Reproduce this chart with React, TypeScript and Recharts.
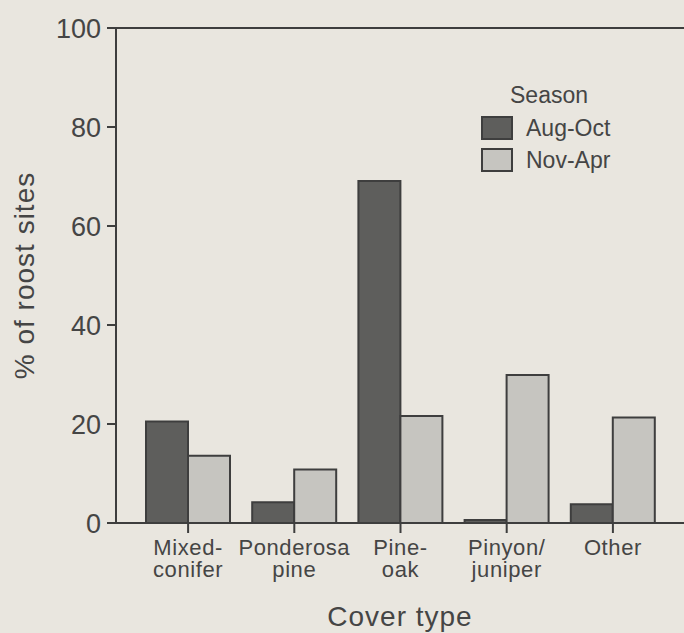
import React from 'react';
import { BarChart, Bar, XAxis, YAxis, ReferenceLine } from 'recharts';

const categories = ['Mixed-\nconifer', 'Ponderosa\npine', 'Pine-\noak', 'Pinyon/\njuniper', 'Other'];
const augOct = [20.5, 4.2, 69.1, 0.6, 3.8];
const novApr = [13.6, 10.8, 21.6, 29.9, 21.3];
const yTicks = [0, 20, 40, 60, 80, 100];
const seasons = [
  { key: 'augOct', label: 'Aug-Oct', color: '#5e5e5c' },
  { key: 'novApr', label: 'Nov-Apr', color: '#c6c5c0' },
];

const data = categories.map((c, i) => ({ name: c, augOct: augOct[i], novApr: novApr[i] }));

const FONT = '"Liberation Sans", Arial, Helvetica, sans-serif';
const INK = '#454545';
const AXIS = '#3e3e3e';

const CategoryTick = ({ x, y, payload }: any) => {
  const lines = String(payload.value).split('\n');
  return (
    <text x={x} y={y} textAnchor="middle" fill={INK} fontSize={22} letterSpacing={0.6} fontFamily={FONT}>
      {lines.map((l, i) => (
        <tspan key={i} x={x} dy={i === 0 ? 20 : 22}>{l}</tspan>
      ))}
    </text>
  );
};

const SeasonLegend = () => (
  <div style={{ fontFamily: FONT, color: INK, fontSize: 23, position: 'absolute', left: 481, top: 84, width: 160, height: 100 }}>
    <div style={{ position: 'absolute', left: 29, top: 0, lineHeight: '23px' }}>Season</div>
    {seasons.map((s, i) => (
      <div key={s.key} style={{ position: 'absolute', left: 0, top: 32, marginTop: i * 32, display: 'flex', alignItems: 'center' }}>
        <div style={{ width: 28, height: 20, background: s.color, border: `2px solid ${AXIS}` }} />
        <span style={{ marginLeft: 13, lineHeight: '23px' }}>{s.label}</span>
      </div>
    ))}
  </div>
);

export default function App() {
  return (
    <div style={{ width: 684, height: 633, background: '#e9e6df', position: 'relative' }}>
      <style>{`body{margin:0}`}</style>
      <BarChart
        width={684}
        height={633}
        data={data}
        margin={{ top: 28, right: 0, bottom: 0, left: 0 }}
        barGap={0}
        barSize={42}
      >
        <XAxis
          dataKey="name"
          padding={{ left: 19, right: 18 }}
          tick={<CategoryTick />}
          tickLine={{ stroke: AXIS, strokeWidth: 2 }}
          tickSize={10}
          tickMargin={2}
          axisLine={{ stroke: AXIS, strokeWidth: 2 }}
          interval={0}
          height={110}
          label={{
            content: ({ viewBox }: any) => (
              <text x={viewBox.x + viewBox.width / 2} y={626} textAnchor="middle" fill={INK} fontSize={28} letterSpacing={1} fontFamily={FONT}>
                Cover type
              </text>
            ),
          }}
        />
        <YAxis
          domain={[0, 100]}
          ticks={yTicks}
          interval={0}
          width={116}
          tickSize={9}
          tickMargin={6}
          tick={{ fill: INK, fontSize: 27, fontFamily: FONT }}
          tickLine={{ stroke: AXIS, strokeWidth: 2 }}
          axisLine={{ stroke: AXIS, strokeWidth: 2 }}
          label={{
            content: ({ viewBox }: any) => (
              <text
                x={24}
                y={viewBox.y + viewBox.height / 2}
                transform={`rotate(-90, 24, ${viewBox.y + viewBox.height / 2})`}
                textAnchor="middle"
                dominantBaseline="central"
                fill={INK}
                fontSize={28}
                letterSpacing={1}
                fontFamily={FONT}
              >
                % of roost sites
              </text>
            ),
          }}
        />
        <ReferenceLine y={100} stroke={AXIS} strokeWidth={2} />
        {seasons.map((s) => (
          <Bar key={s.key} dataKey={s.key} name={s.label} fill={s.color} stroke={AXIS} strokeWidth={2} isAnimationActive={false} />
        ))}
      </BarChart>
      <SeasonLegend />
    </div>
  );
}
